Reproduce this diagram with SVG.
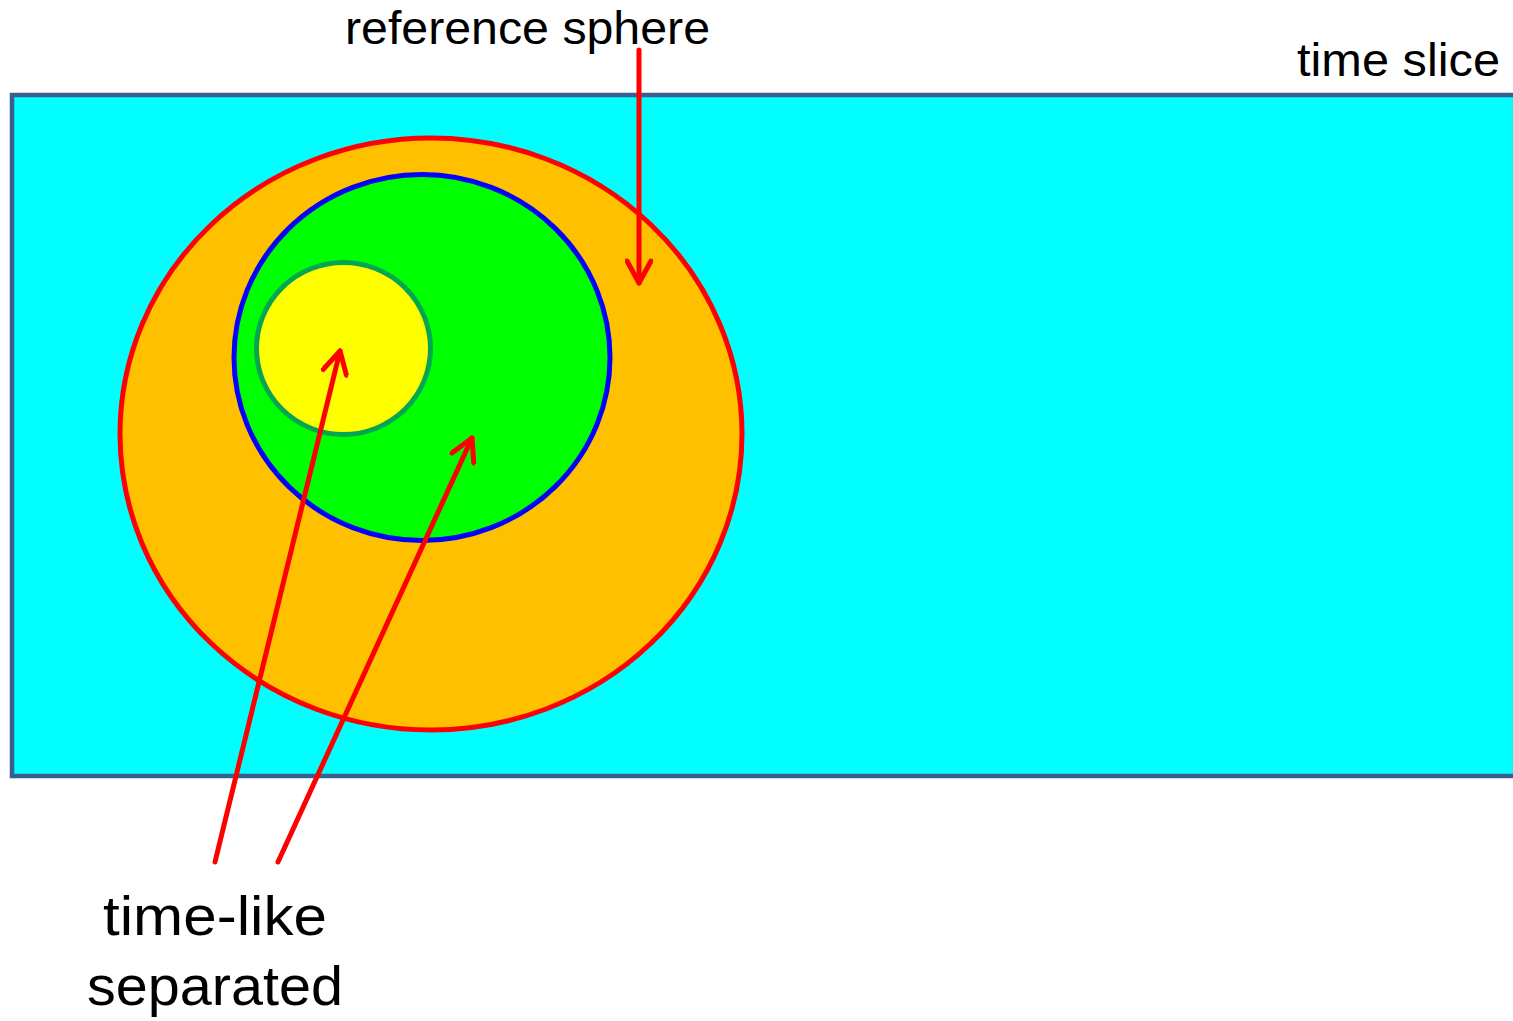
<svg xmlns="http://www.w3.org/2000/svg" width="1513" height="1021" viewBox="0 0 1513 1021">
<style>
.lbl{font-family:"Liberation Sans","Open Sans",Arial,sans-serif;fill:#000}
.arr{stroke:#FF0000;stroke-width:5;fill:none;stroke-linecap:round;stroke-linejoin:round}
</style>
<defs>
<marker id="ah" viewBox="-26 -14 30 28" refX="0" refY="0" markerWidth="30" markerHeight="28" markerUnits="userSpaceOnUse" orient="auto">
<path d="M-22,-12 L0,0 L-22,12" fill="none" stroke="#FF0000" stroke-width="5" stroke-linecap="round" stroke-linejoin="round"/>
</marker>
</defs>
<rect width="1513" height="1021" fill="#FFFFFF"/>
<g id="time-slice">
<rect x="12" y="95" width="1510" height="681" fill="#00FFFF" stroke="#3A5F8F" stroke-width="4.5"/>
</g>
<g id="orange-region">
<ellipse cx="431" cy="434" rx="311" ry="296" fill="#FFC000" stroke="#FF0000" stroke-width="5"/>
</g>
<g id="green-region">
<ellipse cx="422" cy="357.5" rx="188" ry="183" fill="#00FF00" stroke="#0000FF" stroke-width="5"/>
</g>
<g id="yellow-region">
<ellipse cx="343.5" cy="348.5" rx="87" ry="86" fill="#FFFF00" stroke="#00A650" stroke-width="5"/>
</g>
<g id="connectors">
<line class="arr" x1="639" y1="50" x2="639" y2="283" marker-end="url(#ah)"/>
<line class="arr" x1="215" y1="862" x2="340" y2="351" marker-end="url(#ah)"/>
<line class="arr" x1="278" y1="862" x2="472" y2="438" marker-end="url(#ah)"/>
</g>
<g id="labels">
<text class="lbl" x="345" y="44" font-size="46" textLength="365" lengthAdjust="spacingAndGlyphs">reference sphere</text>
<text class="lbl" x="1297" y="76" font-size="46" textLength="203" lengthAdjust="spacingAndGlyphs">time slice</text>
<text class="lbl" x="103" y="935" font-size="56" textLength="224" lengthAdjust="spacingAndGlyphs">time-like</text>
<text class="lbl" x="87" y="1005" font-size="56" textLength="256" lengthAdjust="spacingAndGlyphs">separated</text>
</g>
</svg>
